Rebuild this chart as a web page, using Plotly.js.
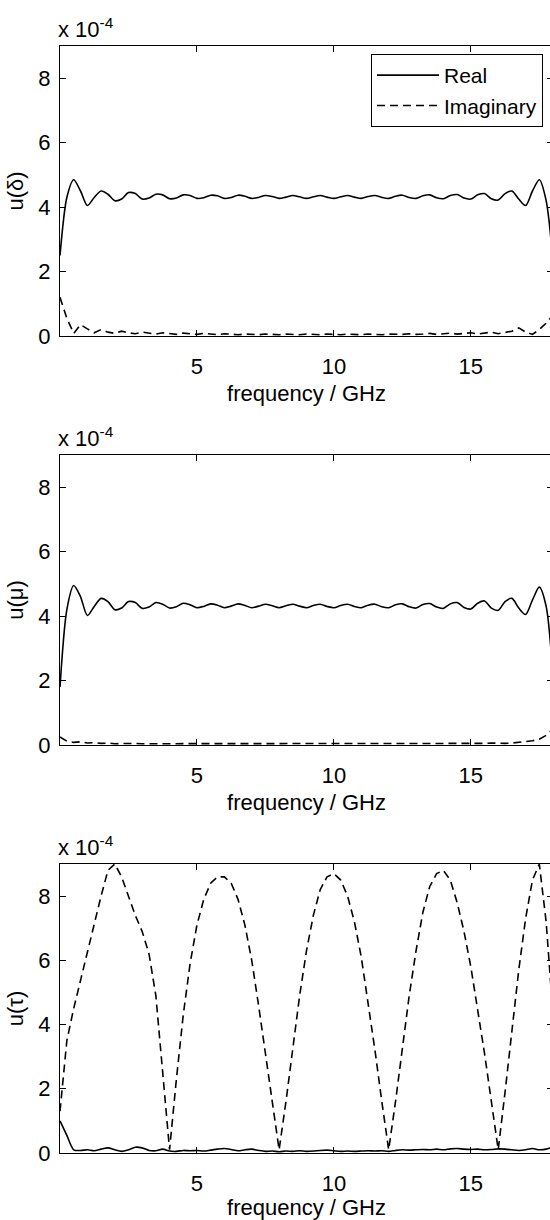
<!DOCTYPE html>
<html><head><meta charset="utf-8">
<script src="https://cdn.plot.ly/plotly-3.0.1.min.js"></script>
<style>html,body{margin:0;padding:0;overflow:hidden;background:#fff;width:550px;height:1220px}</style>
</head><body><div id="chart" style="width:556px;height:1220px"></div>
<script>
// frequency / GHz
const freq = [0,0.25,0.5,0.75,1,1.25,1.5,1.75,2,2.25,2.5,2.75,3,3.25,3.5,3.75,4,4.25,4.5,4.75,5,5.25,5.5,5.75,6,6.25,6.5,6.75,7,7.25,7.5,7.75,8,8.25,8.5,8.75,9,9.25,9.5,9.75,10,10.25,10.5,10.75,11,11.25,11.5,11.75,12,12.25,12.5,12.75,13,13.25,13.5,13.75,14,14.25,14.5,14.75,15,15.25,15.5,15.75,16,16.25,16.5,16.75,17,17.25,17.5,17.75,18];

// values in units of 1e-4
const deltaReal = [2.5,4.3,4.85,4.5,4.05,4.3,4.5,4.4,4.2,4.25,4.45,4.42,4.25,4.28,4.4,4.38,4.26,4.28,4.38,4.36,4.27,4.29,4.37,4.35,4.27,4.3,4.37,4.34,4.27,4.3,4.36,4.33,4.27,4.31,4.36,4.32,4.27,4.32,4.36,4.31,4.27,4.32,4.36,4.31,4.27,4.33,4.36,4.3,4.27,4.34,4.37,4.3,4.27,4.35,4.38,4.29,4.26,4.36,4.39,4.28,4.25,4.38,4.42,4.26,4.22,4.42,4.5,4.25,4.05,4.5,4.85,4.2,2.3];
const deltaImag = [1.2,0.55,0.08,0.35,0.22,0.1,0.2,0.12,0.08,0.15,0.1,0.07,0.12,0.09,0.06,0.1,0.08,0.05,0.09,0.06,0.05,0.08,0.06,0.04,0.07,0.05,0.04,0.06,0.05,0.04,0.06,0.05,0.04,0.06,0.05,0.04,0.06,0.05,0.04,0.06,0.05,0.04,0.06,0.05,0.04,0.06,0.05,0.04,0.06,0.05,0.05,0.07,0.05,0.06,0.08,0.05,0.06,0.09,0.06,0.07,0.1,0.06,0.08,0.12,0.07,0.1,0.15,0.25,0.12,0.05,0.2,0.4,0.65];
const muReal = [1.8,4.2,4.95,4.6,4.02,4.3,4.55,4.45,4.2,4.25,4.45,4.42,4.24,4.28,4.42,4.37,4.25,4.29,4.4,4.35,4.26,4.3,4.38,4.34,4.26,4.31,4.38,4.33,4.26,4.31,4.37,4.32,4.26,4.32,4.37,4.31,4.26,4.33,4.37,4.3,4.26,4.33,4.37,4.3,4.26,4.34,4.37,4.29,4.26,4.35,4.38,4.29,4.25,4.36,4.39,4.28,4.24,4.38,4.42,4.27,4.22,4.4,4.47,4.25,4.18,4.45,4.55,4.25,4.05,4.5,4.9,4.3,2.1];
const muImag = [0.25,0.12,0.08,0.1,0.06,0.07,0.05,0.06,0.04,0.05,0.04,0.05,0.04,0.04,0.03,0.04,0.03,0.04,0.03,0.04,0.03,0.03,0.04,0.03,0.03,0.04,0.03,0.03,0.04,0.03,0.03,0.04,0.03,0.03,0.04,0.03,0.03,0.04,0.03,0.03,0.04,0.03,0.03,0.04,0.03,0.03,0.04,0.03,0.03,0.04,0.03,0.04,0.03,0.04,0.04,0.03,0.04,0.05,0.04,0.04,0.05,0.04,0.05,0.06,0.05,0.05,0.06,0.08,0.1,0.13,0.18,0.3,0.5];
const tauReal = [1.0,0.55,0.1,0.08,0.1,0.07,0.12,0.16,0.1,0.05,0.1,0.18,0.16,0.08,0.07,0.12,0.06,0.05,0.08,0.07,0.08,0.06,0.09,0.12,0.14,0.11,0.07,0.1,0.12,0.08,0.05,0.06,0.04,0.06,0.05,0.07,0.05,0.06,0.08,0.09,0.07,0.05,0.06,0.05,0.06,0.07,0.06,0.07,0.05,0.08,0.1,0.09,0.1,0.11,0.1,0.12,0.1,0.13,0.14,0.12,0.11,0.12,0.1,0.11,0.13,0.12,0.1,0.08,0.1,0.14,0.1,0.12,0.2];
const tauImag = [1.3,3.5,4.5,5.4,6.3,7.1,8.0,8.8,9.0,8.6,8.0,7.4,6.9,6.2,4.9,2.6,0.1,2.3,4.3,5.9,7.1,7.9,8.4,8.6,8.6,8.4,7.9,7.1,6.0,4.6,3.1,1.5,0.1,1.6,3.3,4.9,6.3,7.4,8.2,8.6,8.7,8.5,8.0,7.2,6.1,4.7,3.2,1.6,0.1,1.6,3.3,4.9,6.3,7.5,8.3,8.7,8.8,8.5,7.8,6.9,5.8,4.5,3.1,1.6,0.1,1.9,3.8,5.7,7.3,8.5,9.0,7.2,4.3];

const xTicks = [5, 10, 15];
const yTicks = [0, 2, 4, 6, 8];
const yTitles = ['u(δ)', 'u(μ)', 'u(τ)'];
const xTitle = 'frequency / GHz';
const seriesNames = ['Real', 'Imaginary'];
const scaleLabel = 'x 10<sup>-4</sup>';

const FONT = {family: '"Liberation Sans", Arial, sans-serif', size: 22, color: '#000'};
const H = 1220, W = 556;
const panels = [[46, 336], [455, 745], [864, 1153]]; // pixel top/bottom
const xDom = [60 / W, 553 / W];

const pairs = [[deltaReal, deltaImag], [muReal, muImag], [tauReal, tauImag]];
const traces = [];
const layout = {
  width: W, height: H,
  margin: {l: 0, r: 0, t: 0, b: 0},
  paper_bgcolor: '#fff', plot_bgcolor: '#fff',
  font: FONT,
  showlegend: true,
  legend: {x: 543 / W, y: 1 - 54 / H, xanchor: 'right', yanchor: 'top',
           bgcolor: '#fff', bordercolor: '#000', borderwidth: 1, itemwidth: 62,
           font: {family: FONT.family, size: 21, color: '#000'}},
  annotations: []
};

pairs.forEach((p, i) => {
  const n = i === 0 ? '' : String(i + 1);
  const xa = 'x' + n, ya = 'y' + n;
  traces.push({x: freq, y: p[0], xaxis: xa, yaxis: ya, type: 'scatter', mode: 'lines',
    name: seriesNames[0], showlegend: i === 0,
    line: {color: '#000', width: 1.6, shape: 'spline', smoothing: 0.8}});
  traces.push({x: freq, y: p[1], xaxis: xa, yaxis: ya, type: 'scatter', mode: 'lines',
    name: seriesNames[1], showlegend: i === 0,
    line: {color: '#000', width: 1.6, dash: '8px,5px'}});
  const top = panels[i][0], bot = panels[i][1];
  layout['xaxis' + n] = {
    domain: xDom, anchor: ya, range: [0, 18], tickvals: xTicks, ticks: 'inside', ticklen: 6,
    tickcolor: '#000', mirror: 'ticks', showline: true, linecolor: '#000', linewidth: 1.2,
    showgrid: false, zeroline: false, tickfont: FONT, ticklabelstandoff: 10,
    title: {text: xTitle, font: FONT, standoff: 8}
  };
  layout['yaxis' + n] = {
    domain: [1 - bot / H, 1 - top / H], anchor: xa, range: [0, 9], tickvals: yTicks,
    ticks: 'inside', ticklen: 6, tickcolor: '#000', mirror: 'ticks', showline: true,
    linecolor: '#000', linewidth: 1.2, showgrid: false, zeroline: false, tickfont: FONT,
    ticklabelstandoff: 4,
    title: {text: yTitles[i], font: FONT, standoff: 8}
  };
  layout.annotations.push({xref: 'paper', yref: 'paper', x: 56 / W, y: 1 - top / H,
    xanchor: 'left', yanchor: 'bottom', yshift: 2, text: scaleLabel, showarrow: false,
    font: FONT});
});

Plotly.newPlot('chart', traces, layout, {staticPlot: true, displayModeBar: false});
</script></body></html>
